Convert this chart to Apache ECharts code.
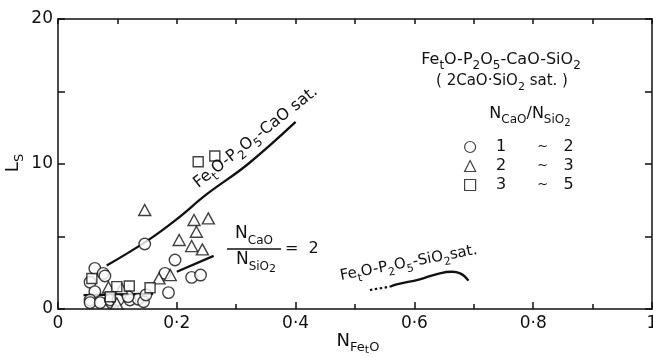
<!DOCTYPE html>
<html>
<head>
<meta charset="utf-8">
<script src="https://cdn.jsdelivr.net/npm/echarts@6/dist/echarts.min.js"></script>
<style>
  html, body { margin: 0; padding: 0; background: #fff; }
  #chart { width: 653px; height: 358px; }
</style>
</head>
<body>
<div id="chart"></div>
<script>
// Sulphide capacity Ls against N_FetO, grouped by N_CaO/N_SiO2
const ratio1to2 = [
  [0.146, 4.48], [0.062, 2.80], [0.076, 2.46], [0.079, 2.28], [0.054, 1.85],
  [0.062, 1.20], [0.054, 0.62], [0.054, 0.44], [0.071, 0.44], [0.090, 0.44],
  [0.088, 0.62], [0.101, 0.62], [0.121, 0.62], [0.135, 0.67], [0.144, 0.50],
  [0.148, 0.97], [0.118, 0.85], [0.180, 2.46], [0.186, 1.13], [0.197, 3.38],
  [0.225, 2.18], [0.240, 2.34]
];
const ratio2to3 = [
  [0.146, 6.83], [0.229, 6.14], [0.253, 6.25], [0.233, 5.33], [0.204, 4.76],
  [0.225, 4.34], [0.243, 4.11], [0.170, 2.11], [0.189, 2.34], [0.085, 1.50],
  [0.107, 1.43], [0.099, 0.39]
];
const ratio3to5 = [
  [0.236, 10.16], [0.264, 10.55], [0.099, 1.54], [0.120, 1.59], [0.155, 1.47],
  [0.057, 2.10], [0.088, 0.85]
];

// Saturation and iso-ratio curves
const caoSatCurve = [[0.082, 3.0], [0.15, 4.7], [0.2, 6.2], [0.25, 7.9], [0.32, 10.0], [0.4, 12.9]];
const ratio2Lower = [[0.043, 0.95], [0.10, 1.0], [0.16, 1.05]];
const ratio2Upper = [[0.2, 2.57], [0.262, 3.66]];
const sio2SatDotted = [[0.525, 1.31], [0.559, 1.54]];
const sio2SatSolid = [[0.559, 1.54], [0.570, 1.70], [0.609, 2.05], [0.638, 2.41], [0.663, 2.57], [0.677, 2.46], [0.691, 1.95]];

const groupNames = ['1 ~ 2', '2 ~ 3', '3 ~ 5'];
const xTicks = { 0: '0', 0.2: '0·2', 0.4: '0·4', 0.6: '0·6', 0.8: '0·8', 1: '1' };

const FONT = 'DejaVu Sans';
const INK = '#111';

// rich styles: n = normal, s = subscript, ss = second-level subscript
function subStyles(size) {
  const s = Math.round(size * 0.72);
  const ss = Math.round(size * 0.62);
  return {
    n: { fontFamily: FONT, fontSize: size, fill: INK, verticalAlign: 'top', lineHeight: size + 2 },
    s: { fontFamily: FONT, fontSize: s, fill: INK, verticalAlign: 'top', padding: [Math.round(size * 0.5), 0, 0, 0] },
    ss: { fontFamily: FONT, fontSize: ss, fill: INK, verticalAlign: 'top', padding: [Math.round(size * 0.72), 0, 0, 0] }
  };
}

function label(x, y, text, size, rotation) {
  return {
    type: 'text', x: x, y: y, rotation: rotation || 0, z: 20, silent: true,
    style: { text: text, rich: subStyles(size), align: 'center', verticalAlign: 'middle', fill: INK }
  };
}

const hollow = { color: '#fff', borderColor: INK, borderWidth: 1.4 };
const curveStyle = { color: INK, width: 2.3 };

const chart = echarts.init(document.getElementById('chart'), null, { renderer: 'canvas' });

const baseX = {
  type: 'value', min: 0, max: 1, interval: 0.2,
  splitLine: { show: false },
  axisLine: { show: true, onZero: false, lineStyle: { color: INK, width: 1.5 } }
};
const baseY = {
  type: 'value', min: 0, max: 20, interval: 10,
  splitLine: { show: false },
  axisLine: { show: true, onZero: false, lineStyle: { color: INK, width: 1.5 } }
};

chart.setOption({
  animation: false,
  backgroundColor: '#fff',
  grid: { left: 58, right: 1, top: 19, bottom: 49, containLabel: false, outerBoundsMode: 'none' },
  xAxis: [
    Object.assign({}, baseX, {
      position: 'bottom',
      axisTick: { show: true, inside: true, length: 7, lineStyle: { color: INK, width: 1.5 } },
      minorTick: { show: true, splitNumber: 2, length: 5, lineStyle: { color: INK, width: 1.5 } },
      axisLabel: {
        margin: 6, fontFamily: FONT, fontSize: 17, color: INK,
        formatter: v => xTicks[Math.round(v * 10) / 10] || ''
      }
    }),
    Object.assign({}, baseX, {
      position: 'top',
      axisTick: { show: true, inside: true, length: 5, lineStyle: { color: INK, width: 1.5 } },
      minorTick: { show: true, splitNumber: 2, length: 5, lineStyle: { color: INK, width: 1.5 } },
      axisLabel: { show: false }
    })
  ],
  yAxis: [
    Object.assign({}, baseY, {
      position: 'left',
      axisTick: { show: true, inside: true, length: 7, lineStyle: { color: INK, width: 1.5 } },
      minorTick: { show: true, splitNumber: 2, length: 7, lineStyle: { color: INK, width: 1.5 } },
      axisLabel: { margin: 5, fontFamily: FONT, fontSize: 17, color: INK }
    }),
    Object.assign({}, baseY, {
      position: 'right',
      axisTick: { show: true, inside: true, length: 7, lineStyle: { color: INK, width: 1.5 } },
      minorTick: { show: true, splitNumber: 2, length: 7, lineStyle: { color: INK, width: 1.5 } },
      axisLabel: { show: false }
    })
  ],
  legend: {
    data: groupNames,
    orient: 'vertical',
    left: 459, top: 134,
    itemWidth: 11, itemHeight: 11, itemGap: 3,
    selectedMode: false,
    itemStyle: { color: '#fff', borderColor: INK, borderWidth: 1.2 },
    formatter: name => {
      const p = name.split(' ~ ');
      return '{a|' + p[0] + '}{b|~}{c|' + p[1] + '}';
    },
    textStyle: {
      fontFamily: FONT, fontSize: 16, color: INK, lineHeight: 16,
      rich: {
        a: { fontFamily: FONT, fontSize: 16, color: INK, width: 41, align: 'right' },
        b: { fontFamily: FONT, fontSize: 13, color: INK, width: 42, align: 'center' },
        c: { fontFamily: FONT, fontSize: 16, color: INK, align: 'left' }
      }
    }
  },
  series: [
    { type: 'line', data: caoSatCurve, smooth: 0.4, showSymbol: false, lineStyle: curveStyle, z: 2, silent: true },
    { type: 'line', data: ratio2Lower, smooth: 0.4, showSymbol: false, lineStyle: curveStyle, z: 2, silent: true },
    { type: 'line', data: ratio2Upper, showSymbol: false, lineStyle: curveStyle, z: 2, silent: true },
    { type: 'line', data: sio2SatDotted, showSymbol: false, lineStyle: { color: INK, width: 2.2, type: [2.5, 2.5] }, z: 2, silent: true },
    { type: 'line', data: sio2SatSolid, smooth: 0.5, showSymbol: false, lineStyle: curveStyle, z: 2, silent: true },
    { name: groupNames[0], type: 'scatter', symbol: 'circle', symbolSize: 11.5, data: ratio1to2, itemStyle: hollow, z: 3, silent: true },
    { name: groupNames[1], type: 'scatter', symbol: 'triangle', symbolSize: [12, 11], data: ratio2to3, itemStyle: hollow, z: 4, silent: true },
    { name: groupNames[2], type: 'scatter', symbol: 'rect', symbolSize: 10, data: ratio3to5, itemStyle: hollow, z: 5, silent: true }
  ],
  graphic: [
    // axis names
    label(15, 163, '{n|L}{s|S}', 18, Math.PI / 2),
    label(358, 344, '{n|N}{s|Fe}{ss|t}{s|O}', 18),
    // legend heading
    label(501, 62, '{n|Fe}{s|t}{n|O-P}{s|2}{n|O}{s|5}{n|-CaO-SiO}{s|2}', 16),
    label(502, 83, '{n|( 2CaO·SiO}{s|2}{n| sat. )}', 15),
    label(530, 117, '{n|N}{s|CaO}{n|/N}{s|SiO}{ss|2}', 16),
    // curve labels
    label(257, 139, '{n|Fe}{s|t}{n|O-P}{s|2}{n|O}{s|5}{n|-CaO sat.}', 16, 0.67),
    label(409, 265, '{n|Fe}{s|t}{n|O-P}{s|2}{n|O}{s|5}{n|-SiO}{s|2}{n|sat.}', 15, 0.188),
    // iso-ratio label
    label(254, 236, '{n|N}{s|CaO}', 17),
    {
      type: 'line', z: 20, silent: true,
      shape: { x1: 227, y1: 249, x2: 281, y2: 249 },
      style: { stroke: INK, lineWidth: 1.5 }
    },
    label(256, 263, '{n|N}{s|SiO}{ss|2}', 17),
    {
      type: 'text', x: 285, y: 249, z: 20, silent: true,
      style: { text: '=  2', fontFamily: FONT, fontSize: 16, fill: INK, align: 'left', verticalAlign: 'middle' }
    }
  ]
});
</script>
</body>
</html>
